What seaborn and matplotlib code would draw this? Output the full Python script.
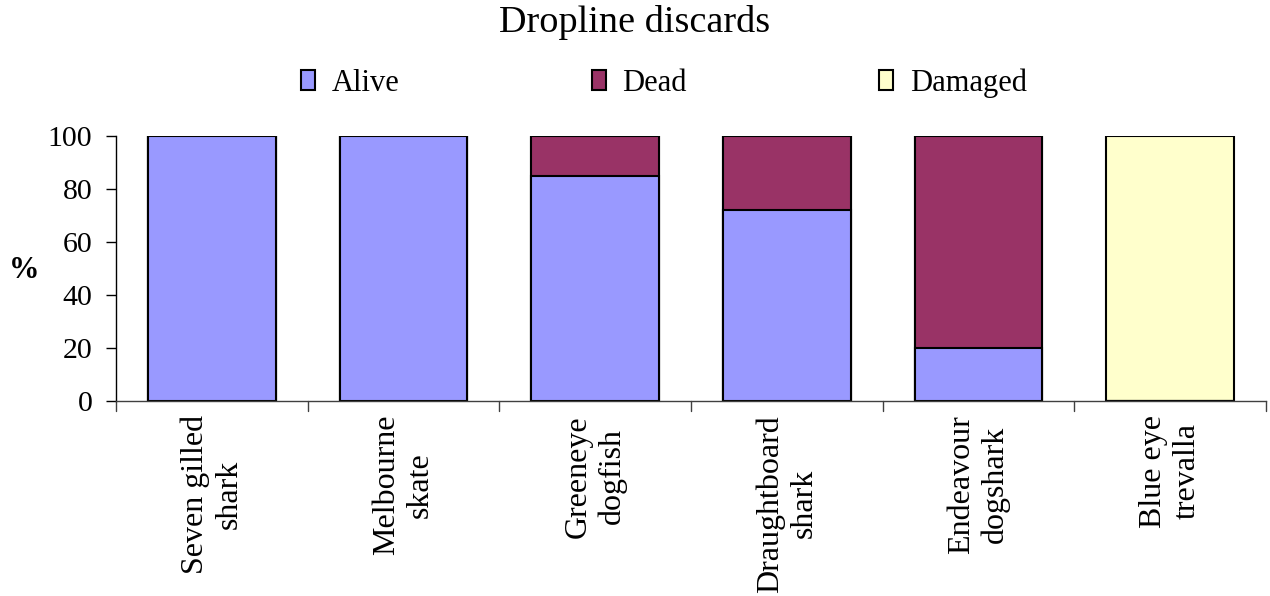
import matplotlib
matplotlib.use("Agg")
import matplotlib.pyplot as plt
import seaborn as sns
import numpy as np
import pandas as pd
from matplotlib.patches import Patch

categories = ["Seven gilled\nshark", "Melbourne\nskate", "Greeneye\ndogfish",
              "Draughtboard\nshark", "Endeavour\ndogshark", "Blue eye\ntrevalla"]
alive = [100, 100, 85, 72, 20, 0]
dead = [0, 0, 15, 28, 80, 0]
damaged = [0, 0, 0, 0, 0, 100]
series_names = ["Alive", "Dead", "Damaged"]
colors = ["#9999FF", "#993366", "#FFFFCC"]

sns.set_theme(style="white")
plt.rcParams["font.family"] = ["Liberation Serif", "DejaVu Serif"]
plt.rcParams.update({"text.color": "black", "axes.labelcolor": "black",
                     "xtick.color": "black", "ytick.color": "black"})

fig = plt.figure(figsize=(12.7, 5.96), dpi=100)
ax = fig.add_axes([116/1270, 1-401/596, (1266-116)/1270, (401-136)/596])

a = np.array(alive, float)
d = np.array(dead, float)
g = np.array(damaged, float)
cums = [a + d + g, a + d, a]
cols = [colors[2], colors[1], colors[0]]
for vals, c in zip(cums, cols):
    df = pd.DataFrame({"cat": categories, "val": vals})
    sns.barplot(data=df, x="cat", y="val", ax=ax, color=c, saturation=1,
                width=2/3, edgecolor="black", linewidth=1.5, errorbar=None)

ax.set_ylim(0, 100)
ax.set_xlim(-0.5, len(categories) - 0.5)
ax.set_yticks([0, 20, 40, 60, 80, 100])
ax.tick_params(axis="y", labelsize=21.5, length=7, width=1, color="black",
               direction="out", left=True, pad=10)
ax.set_xticks(range(len(categories)))
ax.set_xticklabels(categories, rotation=90, fontsize=23, ha="center", va="top",
                   multialignment="center")
ax.tick_params(axis="x", length=0, pad=10)
# boundary ticks between categories
for b in np.arange(-0.5, len(categories), 1.0):
    ax.plot([b, b], [0, -3.8], color="#404040", lw=1, clip_on=False)
ax.set_xlabel("")
ax.set_ylabel("%", fontsize=22, fontweight="bold", rotation=0, va="center", ha="center")
ax.yaxis.set_label_coords((24-116)/1150, (401-270)/265)
for s in ["top", "right"]:
    ax.spines[s].set_visible(False)
ax.spines["left"].set_color("black")
ax.spines["left"].set_linewidth(1)
ax.spines["bottom"].set_color("#404040")
ax.spines["bottom"].set_linewidth(1)

fig.suptitle("Dropline discards", fontsize=27.5, y=1-23/596, va="center")
handles = [Patch(facecolor=c, edgecolor="black", linewidth=1.5, label=n)
           for n, c in zip(series_names, colors)]
fig.legend(handles=handles, loc="center", bbox_to_anchor=(664/1270, 1-83/596), ncol=3,
           frameon=False, fontsize=22, columnspacing=6.3, handlelength=0.45,
           handleheight=0.6, handletextpad=0.55)

fig.savefig("out.png", dpi=100)
